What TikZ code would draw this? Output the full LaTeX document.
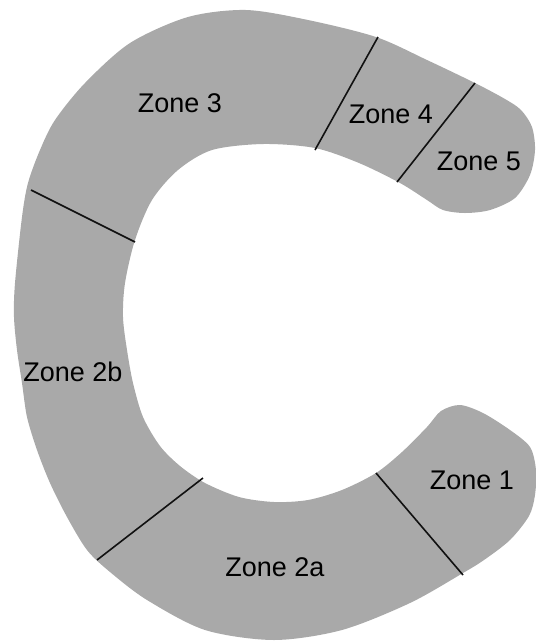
\documentclass[tikz,border=0pt]{standalone}
\usepackage{fontspec}
\setmainfont{Liberation Sans}
\usepackage{tikz}
\definecolor{zonefill}{HTML}{A9A9A9}
\definecolor{zoneline}{HTML}{111111}
\tikzset{
  zonebody/.style = {fill=zonefill, draw=none},
  divider/.style  = {draw=zoneline, line width=1.6pt},
  zonelbl/.style  = {font=\fontsize{27}{30}\selectfont, text=black, inner sep=0pt},
}
\begin{document}
\begin{tikzpicture}[x=1pt, y=-1pt]
	\useasboundingbox (0,0) rectangle (536,641);
	% C-shaped body
	\path[zonebody] plot[smooth cycle, tension=0.5] coordinates {
		(17,350) (14,317) (15,283) (22,217) (28,183) (40,150) (55,120)
		(85,83) (130,43) (188,17) (246,10) (308,20) (376,37) (427,60)
		(475,83) (505,99) (521,110) (532,127) (535,150) (530,175) (515,198)
		(490,210) (465,213) (443,210) (427,200) (400,183) (359,163)
		(315,148) (263,144) (212,150) (178,170) (152,200) (135,240) (125,283)
		(123,317) (127,350) (133,383) (143,417) (160,446) (180,466) (205,483)
		(239,497) (274,502) (308,500) (342,490) (376,473) (402,452) (427,427)
		(441,411) (460,405) (483,413) (510,430) (530,447) (536,470)
		(535,495) (529,516) (510,540) (484,560) (463,573) (410,603) (342,630)
		(274,640) (205,630) (147,600) (110,572) (87,550) (67,517) (50,483)
		(37,450) (27,417) (22,383)};
	% zone borders
	\coordinate (b34o) at (378,37);   \coordinate (b34i) at (315,150);
	\coordinate (b45o) at (475,83);   \coordinate (b45i) at (397,182);
	\coordinate (b3bo) at (31,190);   \coordinate (b3bi) at (135,242);
	\coordinate (bbao) at (97,560);   \coordinate (bbai) at (203,478);
	\coordinate (ba1o) at (463,575);  \coordinate (ba1i) at (376,473);
	\foreach \a/\b in {b34o/b34i, b45o/b45i, b3bo/b3bi, bbao/bbai, ba1o/ba1i}{\draw[divider] (\a) -- (\b);}
	% labels
	\node[zonelbl] (z3)  at (180,103) {Zone 3};
	\node[zonelbl] (z4)  at (391,114) {Zone 4};
	\node[zonelbl] (z5)  at (479,161) {Zone 5};
	\node[zonelbl] (z2b) at (73,372)  {Zone 2b};
	\node[zonelbl] (z2a) at (275,567) {Zone 2a};
	\node[zonelbl] (z1)  at (472,480) {Zone 1};
\end{tikzpicture}
\end{document}
